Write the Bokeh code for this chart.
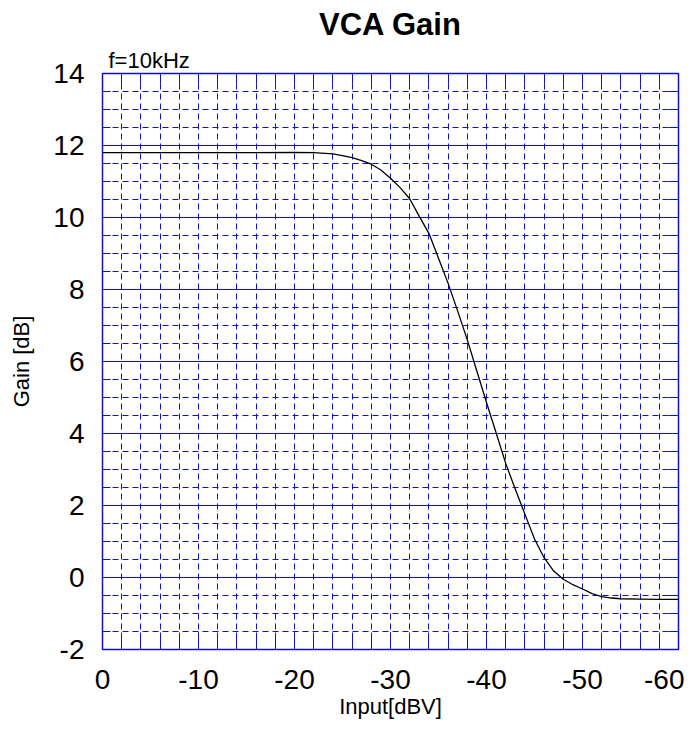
from bokeh.plotting import figure
from bokeh.models import (Range1d, LinearAxis, SingleIntervalTicker, Title,
                          PrintfTickFormatter, CustomJSTickFormatter)
from bokeh.embed import file_html
from bokeh.resources import INLINE

# Data
input_dbv = [0, -5, -10, -15, -20, -22, -24, -25, -26, -27, -28, -29, -30, -31, -32,
             -33, -34, -35, -36, -37, -38, -39, -40, -41, -42, -43, -44, -45, -46,
             -47, -48, -49, -50, -51, -52, -53, -54, -56, -58, -60]
gain_db = [11.8, 11.8, 11.8, 11.8, 11.81, 11.8, 11.77, 11.72, 11.66, 11.58, 11.48,
           11.32, 11.09, 10.83, 10.52, 10.03, 9.56, 8.87, 8.17, 7.4, 6.6, 5.73, 4.86,
           4.02, 3.17, 2.45, 1.76, 1.07, 0.55, 0.18, -0.05, -0.2, -0.32, -0.45, -0.53,
           -0.57, -0.59, -0.6, -0.61, -0.61]

title_text = "VCA Gain"
note_text = "f=10kHz"
x_label = "Input[dBV]"
y_label = "Gain [dB]"

BLUE = "#1010D0"
FONT = "Liberation Sans"

p = figure(width=684, height=738, output_backend="svg", toolbar_location=None,
           x_range=Range1d(0, -60), y_range=Range1d(-2, 14),
           x_axis_location=None, y_axis_location=None, title=None,
           min_border_left=102, min_border_right=6, min_border_top=73, min_border_bottom=89)
p.outline_line_color = BLUE
p.outline_line_width = 1.5
p.background_fill_color = "white"
p.border_fill_color = "white"

blank = CustomJSTickFormatter(code="return ''")

# bottom axis
xb = LinearAxis(ticker=SingleIntervalTicker(interval=10, num_minor_ticks=5),
                formatter=PrintfTickFormatter(format="%d"))
xb.axis_label = x_label
xb.axis_label_text_font = FONT
xb.axis_label_text_font_style = "normal"
xb.axis_label_text_font_size = "22px"
xb.axis_label_text_color = "black"
xb.axis_label_standoff = 2
xb.major_label_text_font = FONT
xb.major_label_text_font_size = "28px"
xb.major_label_text_color = "black"
xb.major_label_standoff = 20
xb.axis_line_color = BLUE
xb.major_tick_line_color = BLUE
xb.minor_tick_line_color = BLUE
xb.major_tick_in = 17
xb.major_tick_out = 0
xb.minor_tick_in = 17
xb.minor_tick_out = 0
p.add_layout(xb, "below")

# left axis
yl = LinearAxis(ticker=SingleIntervalTicker(interval=2, num_minor_ticks=4),
                formatter=PrintfTickFormatter(format="%d"))
yl.axis_label = y_label
yl.axis_label_text_font = FONT
yl.axis_label_text_font_style = "normal"
yl.axis_label_text_font_size = "22px"
yl.axis_label_text_color = "black"
yl.axis_label_standoff = 16
yl.major_label_text_font = FONT
yl.major_label_text_font_size = "28px"
yl.major_label_text_color = "black"
yl.major_label_standoff = 18
yl.axis_line_color = BLUE
yl.major_tick_line_color = BLUE
yl.minor_tick_line_color = BLUE
yl.major_tick_in = 8
yl.major_tick_out = 0
yl.minor_tick_in = 8
yl.minor_tick_out = 0
p.add_layout(yl, "left")

# right axis (ticks only)
yr = LinearAxis(ticker=SingleIntervalTicker(interval=2, num_minor_ticks=4), formatter=blank)
yr.major_label_standoff = 0
yr.axis_line_color = BLUE
yr.major_tick_line_color = BLUE
yr.minor_tick_line_color = BLUE
yr.major_tick_in = 10
yr.major_tick_out = 0
yr.minor_tick_in = 10
yr.minor_tick_out = 0
p.add_layout(yr, "right")

# top axis (ticks only)
xt = LinearAxis(ticker=SingleIntervalTicker(interval=2, num_minor_ticks=0), formatter=blank)
xt.major_label_standoff = 0
xt.axis_line_color = BLUE
xt.major_tick_line_color = BLUE
xt.minor_tick_line_color = None
xt.major_tick_in = 10
xt.major_tick_out = 0
p.add_layout(xt, "above")

# note and title above the frame
note = Title(text=note_text, align="left", offset=6, standoff=2,
             text_font=FONT, text_font_style="normal", text_font_size="22px",
             text_color="black")
p.add_layout(note, "above")
main_title = Title(text=title_text, align="center", standoff=6,
                   text_font=FONT, text_font_style="bold", text_font_size="31px",
                   text_color="black")
p.add_layout(main_title, "above")

# grids
p.xgrid.ticker = SingleIntervalTicker(interval=2)
p.xgrid.grid_line_color = BLUE
p.xgrid.grid_line_dash = "6 4"
p.xgrid.grid_line_width = 1

p.ygrid.ticker = SingleIntervalTicker(interval=2, num_minor_ticks=4)
p.ygrid.grid_line_color = BLUE
p.ygrid.grid_line_width = 1
p.ygrid.minor_grid_line_color = BLUE
p.ygrid.minor_grid_line_dash = "6 4"
p.ygrid.minor_grid_line_width = 1

# curve
p.line(input_dbv, gain_db, line_color="black", line_width=1.3)

open("out.html", "w").write(file_html(p, INLINE))
